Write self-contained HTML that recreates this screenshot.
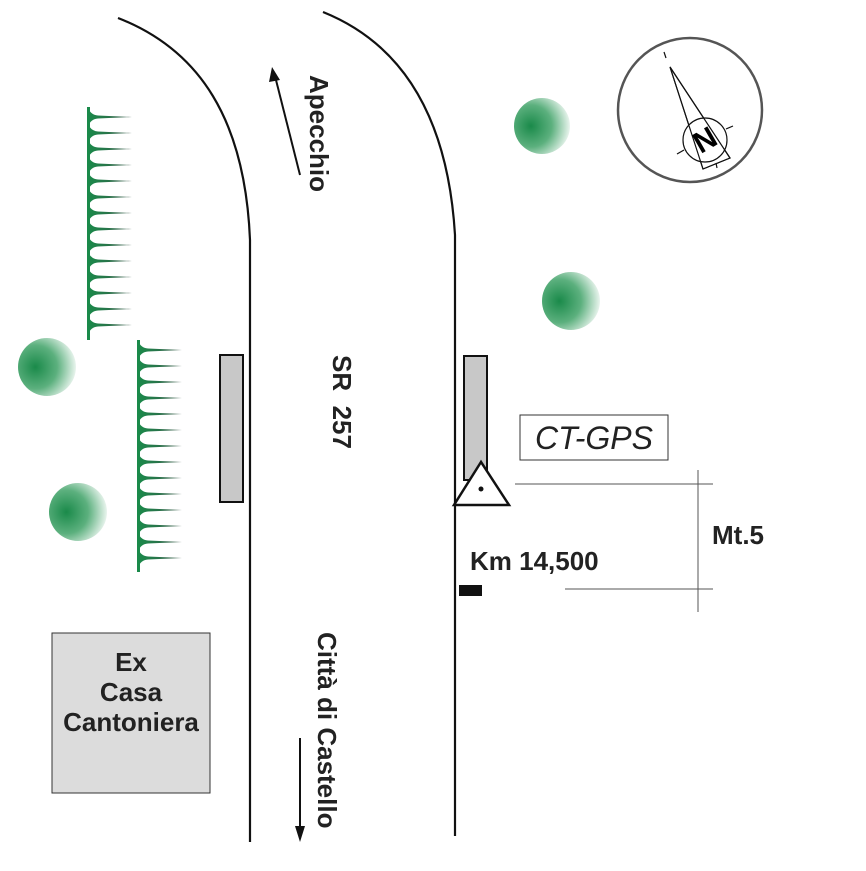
<!DOCTYPE html><html><head><style>body{margin:0;background:#fff}</style></head><body>
<svg width="866" height="866" viewBox="0 0 866 866" xmlns="http://www.w3.org/2000/svg" font-family="Liberation Sans, sans-serif">
<defs>
<radialGradient id="t" cx="0.3" cy="0.5" r="0.75"><stop offset="0" stop-color="#1a8a4a"/><stop offset="0.5" stop-color="#5cb07e"/><stop offset="1" stop-color="#fff"/></radialGradient>
<linearGradient id="tooth" x1="0" x2="1"><stop offset="0" stop-color="#1a8a4a"/><stop offset="1" stop-color="#3a5a4a"/></linearGradient>
<g id="tooth1"><path d="M0,1 Q3,8 10,8.5 L44,10 L10,11.5 Q3,12 0,19 Z" fill="url(#tooth)"/></g>
</defs>
<g fill="none" stroke="#111" stroke-width="2.2">
<path d="M118,18 C200,50 245,120 250,240 L250,842"/>
<path d="M323,12 C405,45 448,120 455,235 L455,836"/>
</g>
<rect x="87" y="107" width="3" height="233" fill="#1a8a4a"/>
<g>
<use href="#tooth1" transform="translate(88,107)"/><use href="#tooth1" transform="translate(88,123)"/><use href="#tooth1" transform="translate(88,139)"/><use href="#tooth1" transform="translate(88,155)"/><use href="#tooth1" transform="translate(88,171)"/><use href="#tooth1" transform="translate(88,187)"/><use href="#tooth1" transform="translate(88,203)"/><use href="#tooth1" transform="translate(88,219)"/><use href="#tooth1" transform="translate(88,235)"/><use href="#tooth1" transform="translate(88,251)"/><use href="#tooth1" transform="translate(88,267)"/><use href="#tooth1" transform="translate(88,283)"/><use href="#tooth1" transform="translate(88,299)"/><use href="#tooth1" transform="translate(88,315)"/>
</g>
<rect x="137" y="340" width="3" height="232" fill="#1a8a4a"/>
<g>
<use href="#tooth1" transform="translate(138,340)"/><use href="#tooth1" transform="translate(138,356)"/><use href="#tooth1" transform="translate(138,372)"/><use href="#tooth1" transform="translate(138,388)"/><use href="#tooth1" transform="translate(138,404)"/><use href="#tooth1" transform="translate(138,420)"/><use href="#tooth1" transform="translate(138,436)"/><use href="#tooth1" transform="translate(138,452)"/><use href="#tooth1" transform="translate(138,468)"/><use href="#tooth1" transform="translate(138,484)"/><use href="#tooth1" transform="translate(138,500)"/><use href="#tooth1" transform="translate(138,516)"/><use href="#tooth1" transform="translate(138,532)"/><use href="#tooth1" transform="translate(138,548)"/>
</g>
<g fill="url(#t)">
<circle cx="542" cy="126" r="28"/><circle cx="571" cy="301" r="29"/><circle cx="47" cy="367" r="29"/><circle cx="78" cy="512" r="29"/>
</g>
<circle cx="690" cy="110" r="72" fill="none" stroke="#555" stroke-width="2.5"/>
<g stroke="#111" stroke-width="1.2" fill="none">
<path d="M670,67 L730,158 L703,169 Z"/>
<circle cx="705" cy="140" r="22" fill="#fff"/>
<path d="M670,67 L730,158 L703,169 Z"/>
<line x1="664" y1="52" x2="666" y2="58"/><line x1="677" y1="154" x2="684" y2="150"/><line x1="726" y1="129" x2="733" y2="126"/><line x1="716" y1="163" x2="717" y2="168"/>
</g>
<text x="705" y="150" font-size="30" font-weight="bold" text-anchor="middle" transform="rotate(-30 705 140)">N</text>
<rect x="220" y="355" width="23" height="147" fill="#c8c8c8" stroke="#111" stroke-width="2"/>
<rect x="464" y="356" width="23" height="124" fill="#c8c8c8" stroke="#111" stroke-width="2"/>
<path d="M481,462 L454,505 L509,505 Z" fill="#fff" stroke="#111" stroke-width="2.5"/>
<circle cx="481" cy="489" r="2.5" fill="#111"/>
<rect x="520" y="415" width="148" height="45" fill="#fff" stroke="#333" stroke-width="1"/>
<text x="594" y="449" font-size="32" font-style="italic" text-anchor="middle" fill="#222">CT-GPS</text>
<g stroke="#555" stroke-width="1">
<line x1="515" y1="484" x2="713" y2="484"/><line x1="565" y1="589" x2="713" y2="589"/><line x1="698" y1="470" x2="698" y2="612"/>
</g>
<text x="712" y="544" font-size="26" font-weight="bold" fill="#222">Mt.5</text>
<text x="470" y="570" font-size="26" font-weight="bold" fill="#222">Km 14,500</text>
<rect x="459" y="585" width="23" height="11" fill="#111"/>
<rect x="52" y="633" width="158" height="160" fill="#dcdcdc" stroke="#333" stroke-width="1"/>
<g font-size="26" font-weight="bold" text-anchor="middle" fill="#222">
<text x="131" y="671">Ex</text><text x="131" y="701">Casa</text><text x="131" y="731">Cantoniera</text>
</g>
<g font-size="26" font-weight="bold" fill="#222">
<text transform="translate(310,75) rotate(90)">Apecchio</text>
<text transform="translate(333,355) rotate(90)">SR&#160;&#160;257</text>
<text transform="translate(318,632) rotate(90)">Città di Castello</text>
</g>
<g stroke="#111" stroke-width="2">
<line x1="300" y1="175" x2="276" y2="80"/><line x1="300" y1="738" x2="300" y2="828"/>
</g>
<path d="M272,67 L269,82 L280,80 Z" fill="#111"/>
<path d="M300,842 L295,826 L305,826 Z" fill="#111"/>
</svg>
</body></html>
